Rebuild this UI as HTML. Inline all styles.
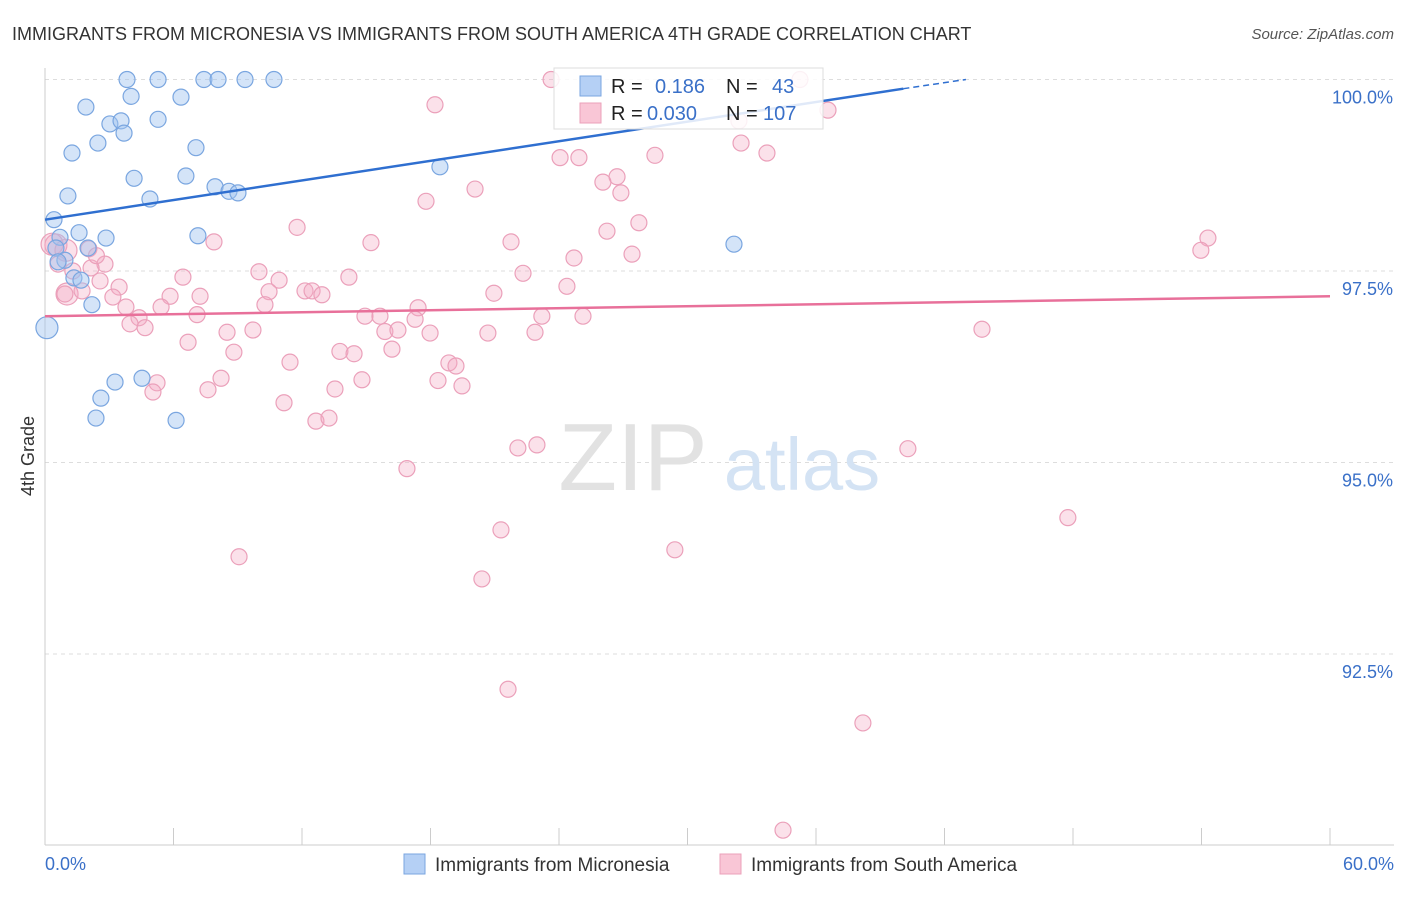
<!DOCTYPE html>
<html><head><meta charset="utf-8"><style>
body{margin:0;background:#fff;font-family:"Liberation Sans",sans-serif;}
svg text{font-family:"Liberation Sans",sans-serif;}
</style></head><body>
<svg id="chart" width="1406" height="892" xmlns="http://www.w3.org/2000/svg">
<text x="12" y="40" font-size="18" fill="#333">IMMIGRANTS FROM MICRONESIA VS IMMIGRANTS FROM SOUTH AMERICA 4TH GRADE CORRELATION CHART</text>
<text x="1394" y="39" font-size="15" fill="#555" text-anchor="end" font-style="italic">Source: ZipAtlas.com</text>
<text transform="translate(34,456) rotate(-90)" font-size="18" fill="#333" text-anchor="middle">4th Grade</text>
<g id="grid"></g>
<g>
<text x="633" y="490" font-size="96" fill="#e2e2e2" text-anchor="middle" font-family="Liberation Serif">ZIP</text>
<text x="802" y="490" font-size="74" fill="#d4e3f4" text-anchor="middle">atlas</text>
</g>
<g id="pts"></g>
<g id="lines"></g>
<g>
<rect x="554" y="68" width="269" height="61" fill="#fff" fill-opacity="0.85" stroke="#ddd"/>
<rect x="580" y="76" width="21" height="20" fill="#b5d0f5" stroke="#7aa6e0"/>
<rect x="580" y="103" width="21" height="20" fill="#f9c6d6" stroke="#eba0ba"/>
<text x="611" y="93" font-size="20" fill="#222">R =</text>
<text x="655" y="93" font-size="20" fill="#3a70c8">0.186</text>
<text x="726" y="93" font-size="20" fill="#222">N =</text>
<text x="772" y="93" font-size="20" fill="#3a70c8">43</text>
<text x="611" y="120" font-size="20" fill="#222">R =</text>
<text x="647" y="120" font-size="20" fill="#3a70c8">0.030</text>
<text x="726" y="120" font-size="20" fill="#222">N =</text>
<text x="763" y="120" font-size="20" fill="#3a70c8">107</text>
</g>
<g>
<rect x="404" y="854" width="21" height="20" fill="#b5d0f5" stroke="#7aa6e0"/>
<text x="435" y="871" font-size="19" fill="#333">Immigrants from Micronesia</text>
<rect x="720" y="854" width="21" height="20" fill="#f9c6d6" stroke="#eba0ba"/>
<text x="751" y="871" font-size="19" fill="#333">Immigrants from South America</text>
</g>
</svg>
<script>
const blueX=[3.83,5.28,7.42,8.08,9.34,10.69,1.91,4.02,6.35,5.28,3.03,3.55,3.69,2.47,1.26,7.05,1.07,4.16,6.58,4.90,7.94,8.59,9.01,18.44,0.42,0.70,1.59,2.85,7.14,32.17,2.01,0.51,0.93,0.61,1.35,1.68,2.19,0.09,3.27,4.53,2.61,2.38,6.12];
const blueY=[100,100,100,100,100,100,99.64,99.78,99.77,99.48,99.42,99.46,99.30,99.17,99.04,99.11,98.48,98.71,98.74,98.44,98.60,98.54,98.52,98.86,98.17,97.94,98.00,97.93,97.96,97.85,97.80,97.80,97.64,97.62,97.41,97.38,97.06,96.76,96.05,96.10,95.84,95.58,95.55];
const pinkX=[23.63,35.25,18.21,36.56,32.40,32.50,33.71,28.48,24.05,24.93,26.71,26.05,20.08,26.89,17.79,11.77,27.73,26.24,15.22,21.76,7.89,54.30,53.97,27.41,24.70,0.51,0.33,0.98,2.05,0.61,2.80,2.15,22.32,9.99,14.19,6.44,10.93,2.57,3.46,1.03,24.37,1.73,12.14,12.47,12.93,20.96,10.46,7.24,5.84,3.17,10.27,5.42,17.42,3.78,7.10,4.39,14.94,15.64,17.28,23.20,25.12,3.97,4.67,8.50,9.71,15.87,16.48,17.98,20.68,22.88,43.75,6.68,8.82,13.77,14.43,16.20,11.44,18.86,19.19,8.22,14.80,18.35,19.47,5.23,5.04,7.61,13.54,11.16,12.65,13.26,22.08,22.97,40.29,16.90,47.76,21.29,29.41,9.06,20.40,21.62,38.19,34.46,0.93,2.40,1.30];
const pinkY=[100,100,99.67,99.60,99.46,99.17,99.04,99.01,98.98,98.98,98.73,98.66,98.57,98.52,98.41,98.07,98.13,98.02,97.87,97.88,97.88,97.93,97.77,97.72,97.67,97.84,97.85,97.77,97.79,97.59,97.59,97.54,97.47,97.49,97.42,97.42,97.38,97.37,97.29,97.20,97.30,97.24,97.24,97.24,97.19,97.21,97.23,97.17,97.17,97.16,97.06,97.03,97.02,97.03,96.93,96.89,96.91,96.91,96.87,96.91,96.91,96.81,96.76,96.70,96.73,96.71,96.73,96.69,96.69,96.70,96.74,96.57,96.44,96.45,96.42,96.48,96.31,96.30,96.26,96.10,96.08,96.07,96.00,96.04,95.92,95.95,95.96,95.78,95.54,95.58,95.19,95.23,95.18,94.92,94.28,94.12,93.86,93.77,93.48,92.04,91.60,90.20,97.20,97.70,97.50];
const yTicks=[100,97.5,95,92.5];
const yTickLabels=["100.0%","97.5%","95.0%","92.5%"];
const blueLine=[0,98.17,40.08,99.88,43.0,100.0];
const pinkLine=[0,96.91,60,97.17];
const X=v=>45+v/60*1285, Y=v=>79.5+(100-v)/2.5*191.5;
const NS="http://www.w3.org/2000/svg";
function mk(t,a,p){const e=document.createElementNS(NS,t);for(const k in a)e.setAttribute(k,a[k]);p.appendChild(e);return e;}
const grid=document.getElementById('grid');
yTicks.forEach((t,i)=>{
 const l=mk('line',{x1:45,x2:1394,y1:Y(t),y2:Y(t),stroke:'#ddd','stroke-dasharray':'4,4'},grid);
 
 
 const tx=mk('text',{x:1393,y:Y(t)+24,'font-size':18,fill:'#3a70c8','text-anchor':'end'},grid);
 tx.textContent=yTickLabels[i];
 
 
});
const ax=mk('line',{x1:45,x2:45,y1:68,y2:845,stroke:'#ccc'},grid);


const bx=mk('line',{x1:45,x2:1394,y1:845,y2:845,stroke:'#ccc'},grid);


for(let i=0;i<=10;i++){const t=mk('line',{x1:X(i*6),x2:X(i*6),y1:828,y2:845,stroke:'#ccc'},grid);
 
 }
const x0=mk('text',{x:45,y:870,'font-size':18,fill:'#3a70c8'},grid);x0.textContent='0.0%';


const x1=mk('text',{x:1394,y:870,'font-size':18,fill:'#3a70c8','text-anchor':'end'},grid);x1.textContent='60.0%';


const pts=document.getElementById('pts');
pinkX.forEach((x,i)=>{const big=(i>=25&&i<=27)||i==39;
 const c=mk('circle',{cx:X(x),cy:Y(pinkY[i]),r:big?11:8,fill:'rgba(244,170,195,0.35)',stroke:'#eba0ba','stroke-width':1.2},pts);
 
 });
blueX.forEach((x,i)=>{
 const c=mk('circle',{cx:X(x),cy:Y(blueY[i]),r:i==37?11:8,fill:'rgba(160,196,240,0.45)',stroke:'#7aa6e0','stroke-width':1.2},pts);
 
 });
const lines=document.getElementById('lines');
const bl=mk('line',{x1:X(blueLine[0]),y1:Y(blueLine[1]),x2:X(blueLine[2]),y2:Y(blueLine[3]),stroke:'#2f6fd0','stroke-width':2.5},lines);


const bd=mk('line',{x1:X(blueLine[2]),y1:Y(blueLine[3]),x2:X(blueLine[4]),y2:Y(blueLine[5]),stroke:'#2f6fd0','stroke-width':1.5,'stroke-dasharray':'6,4'},lines);


const pl=mk('line',{x1:X(pinkLine[0]),y1:Y(pinkLine[1]),x2:X(pinkLine[2]),y2:Y(pinkLine[3]),stroke:'#e8709a','stroke-width':2.5},lines);


</script>
</body></html>
